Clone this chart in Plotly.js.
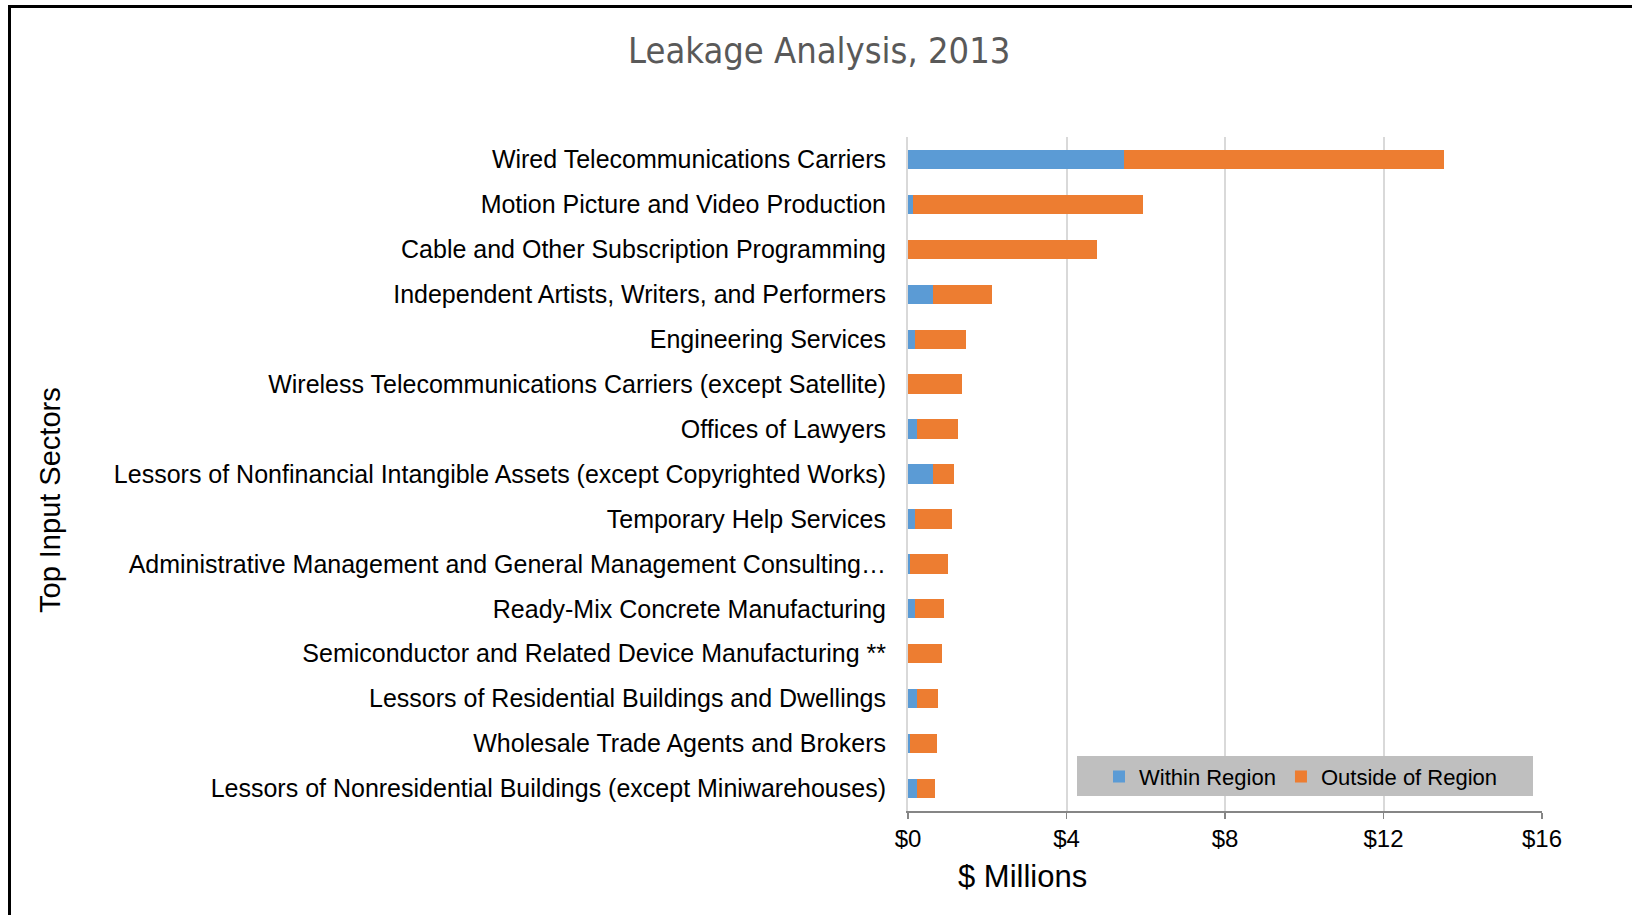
<!DOCTYPE html>
<html>
<head>
<meta charset="utf-8">
<script src="https://cdn.plot.ly/plotly-3.0.1.min.js"></script>
<style>
  html, body { margin: 0; padding: 0; background: #fff; }
  #chart { width: 1632px; height: 915px; }
  #frame { position: absolute; left: 8px; top: 5px; width: 1640px; height: 920px;
           border-top: 3px solid #000; border-left: 3px solid #000; pointer-events: none; }
</style>
</head>
<body>
<div id="chart"></div>
<div id="frame"></div>
<script>
const categories = [
  "Wired Telecommunications Carriers",
  "Motion Picture and Video Production",
  "Cable and Other Subscription Programming",
  "Independent Artists, Writers, and Performers",
  "Engineering Services",
  "Wireless Telecommunications Carriers (except Satellite)",
  "Offices of Lawyers",
  "Lessors of Nonfinancial Intangible Assets (except Copyrighted Works)",
  "Temporary Help Services",
  "Administrative Management and General Management Consulting…",
  "Ready-Mix Concrete Manufacturing",
  "Semiconductor and Related Device Manufacturing **",
  "Lessors of Residential Buildings and Dwellings",
  "Wholesale Trade Agents and Brokers",
  "Lessors of Nonresidential Buildings (except Miniwarehouses)"
];
const withinRegion  = [5.46, 0.12, 0.00, 0.62, 0.17, 0.00, 0.22, 0.62, 0.17, 0.05, 0.17, 0.00, 0.22, 0.05, 0.22];
const outsideRegion = [8.07, 5.80, 4.78, 1.51, 1.30, 1.37, 1.05, 0.55, 0.95, 0.97, 0.75, 0.87, 0.54, 0.67, 0.45];
const xTickVals = [0, 4, 8, 12, 16];
const xTickText = ["$0", "$4", "$8", "$12", "$16"];
const seriesNames = ["Within Region", "Outside of Region"];
const chartTitle = "Leakage Analysis, 2013";
const xTitle = "$ Millions";
const yTitle = "Top Input Sectors";

const sans = '"Liberation Sans", Arial, sans-serif';
const titleFont = '"DejaVu Sans Condensed", "Liberation Sans", sans-serif';

const traces = [
  { type: 'bar', orientation: 'h', name: seriesNames[0], y: categories, x: withinRegion,
    marker: { color: '#5B9BD5' } },
  { type: 'bar', orientation: 'h', name: seriesNames[1], y: categories, x: outsideRegion,
    marker: { color: '#ED7D31' } }
];

const layout = {
  width: 1632, height: 915,
  paper_bgcolor: '#ffffff', plot_bgcolor: '#ffffff',
  barmode: 'stack', bargap: 0.57,
  margin: { l: 908, r: 90, t: 137, b: 104 },
  font: { family: sans, color: '#000000', size: 22 },
  title: { text: chartTitle, x: 0.502, xanchor: 'center', y: 0.945, yanchor: 'middle',
           font: { family: titleFont, size: 36, color: '#595959' } },
  xaxis: {
    range: [0, 16], tickvals: xTickVals, ticktext: xTickText,
    showgrid: true, gridcolor: '#d9d9d9', gridwidth: 2, zeroline: false,
    showline: true, linecolor: '#868686', linewidth: 1.5,
    ticks: 'outside', ticklen: 6, tickcolor: '#868686', tickwidth: 1.5,
    tickfont: { family: sans, size: 24, color: '#000' },
    automargin: false, fixedrange: true
  },
  yaxis: {
    autorange: 'reversed', type: 'category',
    showgrid: false, zeroline: false,
    showline: true, linecolor: '#d9d9d9', linewidth: 2,
    ticks: '', ticklabelstandoff: 15,
    tickfont: { family: sans, size: 25, color: '#000' },
    automargin: false, fixedrange: true
  },
  annotations: [
    { text: xTitle, xref: 'paper', yref: 'paper', x: (1022 - 908) / 634, y: (811 - 876) / 674,
      xanchor: 'center', yanchor: 'middle', showarrow: false,
      font: { family: sans, size: 31, color: '#000' } },
    { text: yTitle, xref: 'paper', yref: 'paper', x: (50 - 908) / 634, y: (811 - 500) / 674,
      xanchor: 'center', yanchor: 'middle', textangle: -90, showarrow: false,
      font: { family: sans, size: 29, color: '#000' } }
  ],
  shapes: [
    { type: 'rect', xref: 'paper', yref: 'paper', layer: 'above',
      x0: (1077 - 908) / 634, x1: (1533 - 908) / 634, y0: (811 - 796) / 674, y1: (811 - 756) / 674,
      fillcolor: '#bfbfbf', line: { width: 0 } }
  ],
  showlegend: true,
  legend: {
    orientation: 'h', x: (1099 - 908) / 634, xanchor: 'left', y: 0.082, yanchor: 'top',
    bgcolor: 'rgba(0,0,0,0)', font: { family: sans, size: 22, color: '#000' },
    traceorder: 'normal', itemclick: false, itemdoubleclick: false
  }
};

Plotly.newPlot('chart', traces, layout, { displayModeBar: false, staticPlot: true });
</script>
</body>
</html>
